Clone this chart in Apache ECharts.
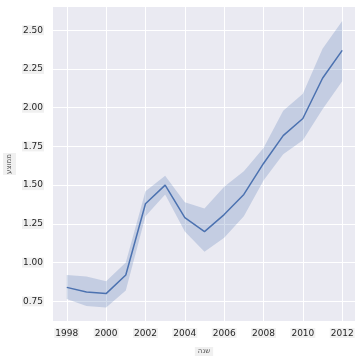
<!DOCTYPE html>
<html>
<head>
<meta charset="utf-8">
<script src="https://cdn.jsdelivr.net/npm/echarts@6/dist/echarts.min.js"></script>
<style>html,body{margin:0;padding:0;background:#fff;}#c{width:362px;height:362px;}</style>
</head>
<body>
<div id="c"></div>
<script>
var years = [1998,1999,2000,2001,2002,2003,2004,2005,2006,2007,2008,2009,2010,2011,2012];
var meanVals = [0.84,0.81,0.80,0.92,1.38,1.50,1.29,1.20,1.31,1.44,1.64,1.82,1.93,2.19,2.37];
var upperVals = [0.92,0.91,0.88,1.00,1.46,1.56,1.39,1.35,1.49,1.59,1.74,1.98,2.09,2.38,2.56];
var lowerVals = [0.765,0.72,0.71,0.82,1.30,1.44,1.20,1.07,1.16,1.30,1.53,1.70,1.79,1.99,2.17];
var xTicks = [1998,2000,2002,2004,2006,2008,2010,2012];
var yTicks = [0.75,1.00,1.25,1.50,1.75,2.00,2.25,2.50];
var xTitle = 'שנה';
var yTitle = 'ממוצע';

var chart = echarts.init(document.getElementById('c'), null, {renderer:'canvas'});
var bandData = years.map(function(y,i){return [y, lowerVals[i], upperVals[i]];});
var meanData = years.map(function(y,i){return [y, meanVals[i]];});
var lblStyle = {fontFamily:'DejaVu Sans', fontSize:9, color:'#262626', backgroundColor:'#f0f0f0', padding:[1,1,0,1]};
chart.setOption({
  animation:false,
  backgroundColor:'#ffffff',
  grid:{left:53, right:7, top:7, bottom:41, show:true, backgroundColor:'#EAEAF2', borderWidth:0, containLabel:false, outerBoundsMode:'none'},
  xAxis:{
    type:'value', min:1997.3, max:2012.65,
    name:xTitle, nameLocation:'middle', nameGap:26, nameMoveOverlap:false,
    nameTextStyle:{fontFamily:'DejaVu Sans', fontSize:7, color:'#555', backgroundColor:'#f0f0f0', padding:[1,3,1,3]},
    axisLine:{show:false}, axisTick:{show:false, customValues:xTicks},
    axisLabel:Object.assign({customValues:xTicks, margin:7, formatter:function(v){return String(v);}}, lblStyle),
    splitLine:{show:true, lineStyle:{color:'#ffffff', width:1}}
  },
  yAxis:{
    type:'value', min:0.623, max:2.65,
    name:yTitle, nameLocation:'middle', nameGap:37, nameRotate:90, nameMoveOverlap:false,
    nameTextStyle:{fontFamily:'DejaVu Sans', fontSize:7, color:'#555', backgroundColor:'#f0f0f0', padding:[3,1,3,1]},
    axisLine:{show:false}, axisTick:{show:false, customValues:yTicks},
    axisLabel:Object.assign({customValues:yTicks, margin:9, formatter:function(v){return v.toFixed(2);}}, lblStyle),
    splitLine:{show:true, lineStyle:{color:'#ffffff', width:1}}
  },
  series:[
    {type:'custom', data:bandData, silent:true, z:1,
     encode:{x:0, y:[1,2]},
     renderItem:function(params, api){
       if (params.dataIndex !== 0) return null;
       var up = [], lo = [];
       for (var i=0;i<bandData.length;i++){
         up.push(api.coord([bandData[i][0], bandData[i][2]]));
         lo.unshift(api.coord([bandData[i][0], bandData[i][1]]));
       }
       return {type:'polygon', shape:{points:up.concat(lo)}, style:{fill:'rgba(76,114,176,0.24)', stroke:'none'}};
     }},
    {type:'line', data:meanData, symbol:'none', z:2, lineStyle:{color:'#4C72B0', width:1.5}}
  ]
});
</script>
</body>
</html>
